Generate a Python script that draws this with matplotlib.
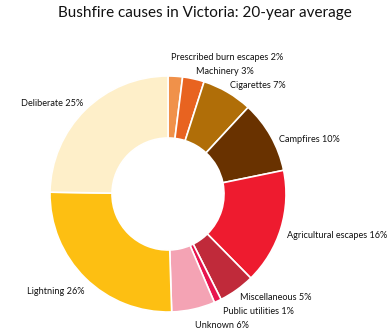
import matplotlib

matplotlib.use("Agg")

import matplotlib.pyplot as plt

causes = [
    "Prescribed burn escapes", "Machinery", "Cigarettes", "Campfires",
    "Agricultural escapes", "Miscellaneous", "Public utilities", "Unknown",
    "Lightning", "Deliberate",
]
shares = [2, 3, 7, 10, 16, 5, 1, 6, 26, 25]
colors = [
    "#F0914A", "#E86320", "#B06E08", "#693200", "#EE1B2F",
    "#C02A3A", "#E8154E", "#F4A3B4", "#FDBF12", "#FEEFC9",
]

# label anchors in pixel coords (left x, centre y from top)
label_pos = [
    (171, 57), (196, 72), (230, 86), (279, 139), (287, 235),
    (240, 298), (223, 312), (195, 325), (27, 291), (21, 104),
]

W, H = 392, 336
fig = plt.figure(figsize=(W / 100, H / 100), dpi=100)
ax = fig.add_axes([0, 0, 1, 1])
ax.set_xlim(0, W)
ax.set_ylim(0, H)
ax.set_aspect("equal")
ax.set_axis_off()

ax.pie(
    shares,
    colors=colors,
    center=(168, H - 194),
    radius=118,
    startangle=90,
    counterclock=False,
    wedgeprops=dict(width=62, edgecolor="white", linewidth=1.2),
    frame=True,
)
ax.set_xlim(0, W)
ax.set_ylim(0, H)
ax.set_axis_off()

font = ["Lato", "DejaVu Sans"]
for name, val, (x, y) in zip(causes, shares, label_pos):
    ax.text(x, H - y, f"{name} {val}%", ha="left", va="center",
            fontsize=6.6, family=font, color="#111111")

ax.text(205, H - 13, "Bushfire causes in Victoria: 20-year average",
        ha="center", va="center", fontsize=11, family=font, color="#111111")

fig.savefig("out.png", dpi=100)
